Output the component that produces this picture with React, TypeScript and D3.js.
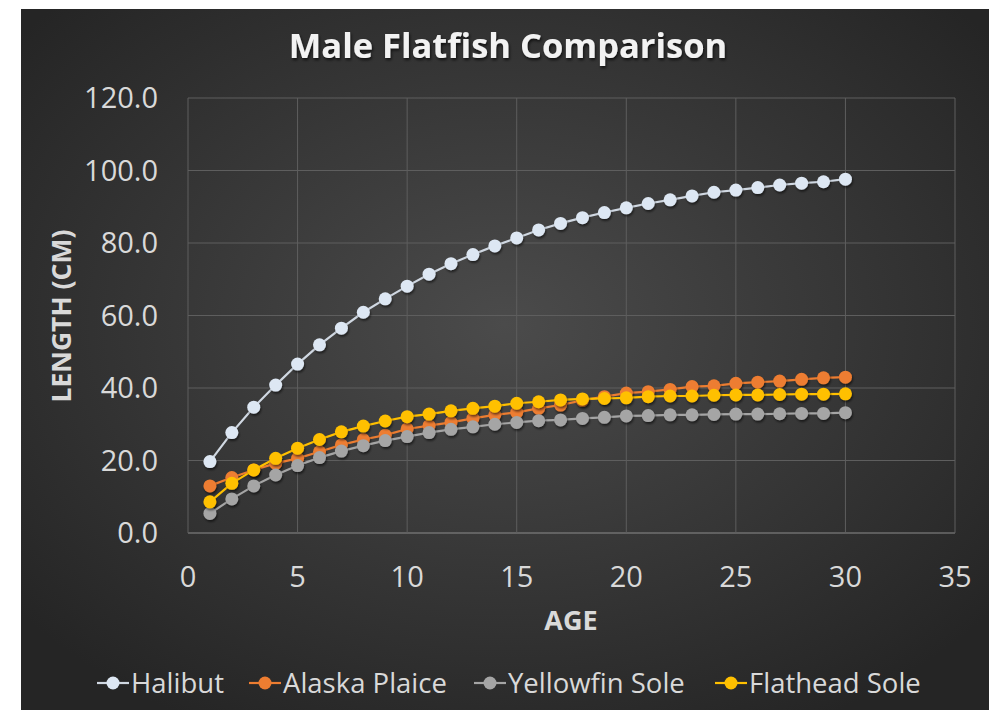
import React from "react";
import * as d3 from "d3";

const ages = d3.range(1, 31);
const halibut = [19.7, 27.7, 34.7, 40.8, 46.6, 51.9, 56.5, 60.9, 64.6, 68.1, 71.4, 74.3, 76.8, 79.2, 81.4, 83.6, 85.4, 87.0, 88.4, 89.7, 90.9, 91.9, 93.0, 94.0, 94.6, 95.3, 96.0, 96.5, 96.9, 97.6];
const alaskaPlaice = [13.0, 15.3, 17.4, 19.2, 20.6, 22.4, 24.3, 25.8, 27.0, 28.7, 29.6, 30.5, 31.6, 32.6, 33.3, 34.4, 35.3, 36.6, 37.6, 38.6, 39.0, 39.6, 40.4, 40.6, 41.3, 41.6, 41.9, 42.4, 42.8, 43.0];
const yellowfinSole = [5.4, 9.4, 13.0, 16.0, 18.6, 20.8, 22.6, 24.1, 25.5, 26.6, 27.7, 28.6, 29.3, 30.0, 30.5, 31.0, 31.2, 31.6, 31.9, 32.3, 32.4, 32.6, 32.6, 32.7, 32.8, 32.8, 32.9, 33.0, 33.0, 33.2];
const flatheadSole = [8.6, 13.7, 17.4, 20.6, 23.4, 25.8, 27.9, 29.5, 30.9, 32.1, 32.8, 33.7, 34.4, 35.0, 35.8, 36.2, 36.7, 37.0, 37.1, 37.3, 37.6, 37.8, 37.8, 38.0, 38.1, 38.1, 38.2, 38.3, 38.3, 38.4];

const seriesNames = ["Halibut", "Alaska Plaice", "Yellowfin Sole", "Flathead Sole"];
const seriesValues = [halibut, alaskaPlaice, yellowfinSole, flatheadSole];
const markerColors = ["#dde7f3", "#ed7d31", "#a5a5a5", "#ffc000"];
const lineColors = ["#d0d8e2", "#ed7d31", "#a5a5a5", "#ffc000"];

const xTicks = [0, 5, 10, 15, 20, 25, 30, 35];
const yTicks = [0, 20, 40, 60, 80, 100, 120];

const title = "Male Flatfish Comparison";
const xTitle = "AGE";
const yTitle = "LENGTH (CM)";

const legendX = [97, 249, 474, 715];

export default function App() {
  const x = d3.scaleLinear().domain([0, 35]).range([188, 955]);
  const y = d3.scaleLinear().domain([0, 120]).range([533, 98]);
  const font = "'Open Sans', sans-serif";
  const line = d3
    .line<number>()
    .x((_, i) => x(ages[i]))
    .y((d) => y(d));

  return (
    <svg
      width={989}
      height={710}
      style={{ position: "absolute", left: 0, top: 0, background: "#fff" }}
    >
      <defs>
        <radialGradient id="bg" cx="50%" cy="45%" r="65%">
          <stop offset="0%" stopColor="#4b4b4b" />
          <stop offset="100%" stopColor="#252525" />
        </radialGradient>
        <filter id="sh" x="-50%" y="-50%" width="200%" height="200%">
          <feDropShadow dx="1" dy="2" stdDeviation="1.2" floodColor="#000" floodOpacity="0.55" />
        </filter>
        <filter id="tsh" x="-10%" y="-30%" width="120%" height="160%">
          <feDropShadow dx="1" dy="2" stdDeviation="1.5" floodColor="#000" floodOpacity="0.7" />
        </filter>
      </defs>
      <rect x={21} y={9} width={968} height={701} fill="url(#bg)" />

      {yTicks.map((t) => (
        <line key={"gy" + t} x1={x(0)} x2={x(35)} y1={y(t)} y2={y(t)}
          stroke={t === 0 ? "#8c8c8c" : "#5e5e5e"} strokeWidth={1} />
      ))}
      {xTicks.map((t) => (
        <line key={"gx" + t} x1={x(t)} x2={x(t)} y1={y(0)} y2={y(120)}
          stroke="#5e5e5e" strokeWidth={1} />
      ))}

      {yTicks.map((t) => (
        <text key={"ty" + t} x={158} y={y(t)} dy="0.35em" textAnchor="end"
          fill="#d9d9d9" fontSize={29} fontFamily={font}>
          {t.toFixed(1)}
        </text>
      ))}
      {xTicks.map((t) => (
        <text key={"tx" + t} x={x(t)} y={577} dy="0.35em" textAnchor="middle"
          fill="#d9d9d9" fontSize={29} fontFamily={font}>
          {t}
        </text>
      ))}

      <text x={508} y={46} dy="0.35em" textAnchor="middle" fill="#f2f2f2"
        fontSize={34.5} fontWeight="bold" fontFamily={font} filter="url(#tsh)">
        {title}
      </text>
      <text x={571} y={621} dy="0.35em" textAnchor="middle" fill="#d9d9d9"
        fontSize={27} fontWeight="bold" fontFamily={font}>
        {xTitle}
      </text>
      <text transform={`translate(62,316) rotate(-90)`} dy="0.35em" textAnchor="middle"
        fill="#d9d9d9" fontSize={26.5} fontWeight="bold" fontFamily={font}>
        {yTitle}
      </text>

      {seriesValues.map((vals, si) => (
        <g key={"s" + si}>
          <path d={line(vals) || ""} fill="none" stroke={lineColors[si]} strokeWidth={2.2} />
          {vals.map((v, i) => (
            <circle key={i} cx={x(ages[i])} cy={y(v)} r={6.5} fill={markerColors[si]}
              filter="url(#sh)" />
          ))}
        </g>
      ))}

      {seriesNames.map((name, si) => (
        <g key={"l" + si} transform={`translate(${legendX[si]},683)`}>
          <line x1={0} x2={32} y1={0} y2={0} stroke={lineColors[si]} strokeWidth={2.2} />
          <circle cx={16} cy={0} r={6.5} fill={markerColors[si]} />
          <text x={34} y={0} dy="0.35em" fill="#d9d9d9" fontSize={27.5} fontFamily={font}>
            {name}
          </text>
        </g>
      ))}
    </svg>
  );
}
